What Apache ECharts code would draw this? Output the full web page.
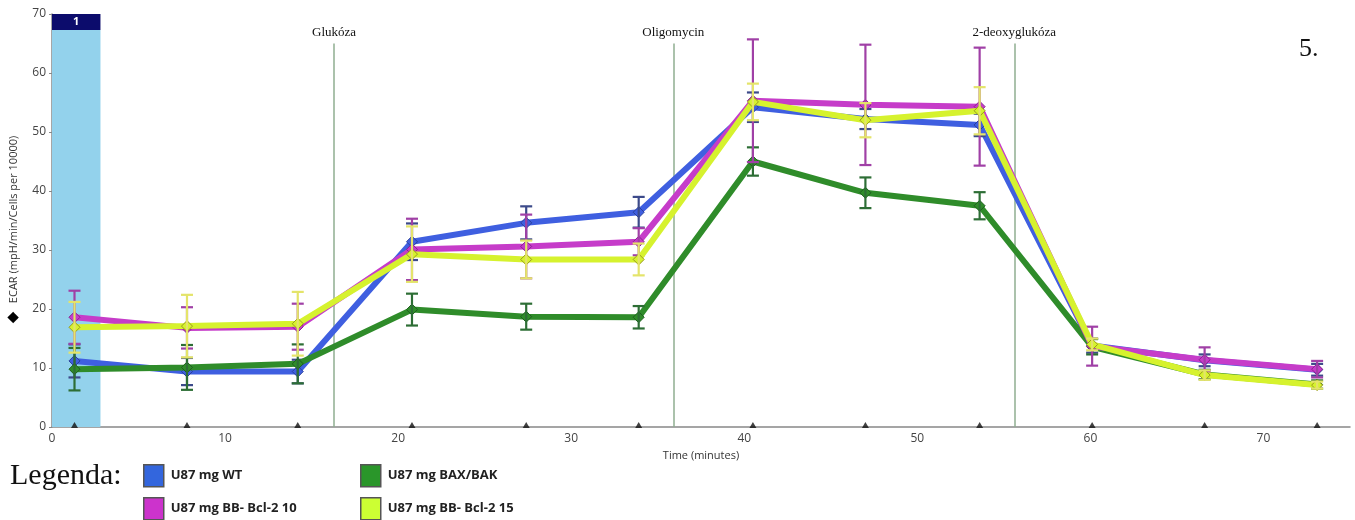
<!DOCTYPE html>
<html>
<head>
<meta charset="utf-8">
<script src="https://cdn.jsdelivr.net/npm/echarts@6/dist/echarts.min.js"></script>
<style>html,body{margin:0;padding:0;background:#fff}#c{width:1355px;height:520px}</style>
</head>
<body>
<div id="c"></div>
<script>
// ---- data ----
const times = [1.3, 7.8, 14.2, 20.8, 27.4, 33.9, 40.5, 47.0, 53.6, 60.1, 66.6, 73.1];
const seriesNames = ['U87 mg WT', 'U87 mg BAX/BAK', 'U87 mg BB- Bcl-2 10', 'U87 mg BB- Bcl-2 15'];
const wt      = [11.2, 9.4, 9.4, 31.4, 34.6, 36.4, 54.2, 52.2, 51.2, 13.8, 11.3, 9.7];
const wtErr   = [2.8, 2.3, 2.0, 3.1, 2.8, 2.6, 2.5, 1.7, 1.9, 1.2, 1.0, 1.0];
const bax     = [9.8, 10.1, 10.7, 19.9, 18.7, 18.6, 45.0, 39.7, 37.5, 13.6, 8.9, 7.2];
const baxErr  = [3.6, 3.8, 3.3, 2.7, 2.2, 1.9, 2.4, 2.6, 2.3, 1.3, 0.8, 0.7];
const bcl10   = [18.6, 16.8, 17.0, 30.1, 30.6, 31.4, 55.3, 54.6, 54.3, 13.7, 11.4, 9.8];
const bcl10Err= [4.5, 3.5, 3.9, 5.2, 5.4, 2.3, 10.4, 10.2, 10.0, 3.3, 2.1, 1.4];
const bcl15   = [16.9, 17.1, 17.5, 29.3, 28.4, 28.4, 55.1, 52.0, 53.6, 14.0, 8.8, 7.1];
const bcl15Err= [4.3, 5.3, 5.4, 4.7, 3.2, 2.7, 3.1, 2.9, 4.0, 1.0, 0.8, 0.6];
const injections = [['Glukóza', 16.3], ['Oligomycin', 35.9], ['2-deoxyglukóza', 55.6]];
const injectionTop = 65;
const bandEnd = 2.8;
const bandLabel = '1';
const yTicks = [0, 10, 20, 30, 40, 50, 60, 70];
const xTicks = [0, 10, 20, 30, 40, 50, 60, 70];

// ---- styles ----
const lineColors = ['#3f5fe0', '#2f8c2a', '#c63cc9', '#d6f22e'];
const markerBorder = ['#2a3f9a', '#1e5e1e', '#8a2090', '#9a9a20'];
const errColors = ['#3c4a8a', '#2d6e35', '#a040a6', '#e4e46a'];
const legendColors = ['#3366dd', '#2a962a', '#cc33cc', '#ccff33'];
const values = [wt, bax, bcl10, bcl15];
const errs = [wtErr, baxErr, bcl10Err, bcl15Err];
const drawOrder = [0, 1, 2, 3];

const chart = echarts.init(document.getElementById('c'), null, {renderer: 'canvas'});

const series = [];
// baseline triangles + band
series.push({
  type: 'scatter', name: 'ticks', silent: true,
  data: times.map(t => [t, 0]),
  symbol: 'triangle', symbolSize: [7, 6], symbolOffset: [0, -2],
  itemStyle: {color: '#111'}, z: 5,
  markArea: {
    silent: true,
    data: [
      [{xAxis: 0, yAxis: 0, itemStyle: {color: '#93d2ec'}}, {xAxis: bandEnd, yAxis: 67.3}],
      [{xAxis: 0, yAxis: 67.3, itemStyle: {color: '#0c0c6c', borderRadius: [3,3,0,0]},
        label: {show: true, position: 'inside', formatter: bandLabel, color: '#fff', fontWeight: 'bold', fontSize: 11, fontFamily: 'Open Sans'}},
       {xAxis: bandEnd, yAxis: 70}]
    ]
  },
  markLine: {
    silent: true, symbol: ['none', 'none'],
    lineStyle: {color: '#8fae90', width: 1.5, type: 'solid'},
    label: {show: true, position: 'end', color: '#111', fontFamily: 'Liberation Serif', fontSize: 13, distance: 4, formatter: p => p.name},
    data: injections.map(([n, x]) => [{name: n, coord: [x, 0]}, {coord: [x, injectionTop]}])
  }
});

drawOrder.forEach(i => {
  series.push({
    type: 'line', name: seriesNames[i],
    data: times.map((t, k) => [t, values[i][k]]),
    lineStyle: {color: lineColors[i], width: 6},
    itemStyle: {color: lineColors[i], borderColor: markerBorder[i], borderWidth: 1},
    symbol: 'diamond', symbolSize: 11, showSymbol: true,
    z: 10 + i * 2, animation: false
  });
  series.push({
    type: 'custom', name: seriesNames[i] + ' err',
    data: times.map((t, k) => [t, values[i][k] - errs[i][k], values[i][k] + errs[i][k]]),
    encode: {x: 0, y: [1, 2]},
    z: 11 + i * 2, silent: true,
    renderItem: (params, api) => {
      const lo = api.coord([api.value(0), api.value(1)]);
      const hi = api.coord([api.value(0), api.value(2)]);
      const w = 6;
      const st = {stroke: errColors[i], lineWidth: 2.2};
      return {type: 'group', children: [
        {type: 'line', shape: {x1: lo[0], y1: lo[1], x2: hi[0], y2: hi[1]}, style: st},
        {type: 'line', shape: {x1: lo[0]-w, y1: lo[1], x2: lo[0]+w, y2: lo[1]}, style: st},
        {type: 'line', shape: {x1: hi[0]-w, y1: hi[1], x2: hi[0]+w, y2: hi[1]}, style: st}
      ]};
    }
  });
});

const legendPos = [[138, 459], [355, 459], [138, 492], [355, 492]];
const legendIdx = [0, 1, 2, 3];
const legends = legendIdx.map((i, k) => ({
  left: legendPos[k][0], top: legendPos[k][1],
  itemWidth: 20, itemHeight: 22, itemGap: 0,
  icon: 'rect', selectedMode: false,
  data: [{name: seriesNames[i], icon: 'rect', itemStyle: {color: legendColors[i], borderColor: '#555', borderWidth: 1.5}}],
  textStyle: {fontFamily: 'Open Sans', fontWeight: 700, fontSize: 13, color: '#222', padding: [0,0,0,2]}
}));

chart.setOption({
  animation: false,
  grid: {left: 52, right: 5, top: 14, bottom: 93, outerBoundsMode: 'none', containLabel: false},
  xAxis: {
    type: 'value', min: 0, max: 75, interval: 10,
    name: 'Time (minutes)', nameLocation: 'middle', nameGap: 21,
    nameTextStyle: {fontFamily: 'Open Sans', fontSize: 11, color: '#333'},
    axisLine: {lineStyle: {color: '#888', width: 1.5}},
    axisTick: {show: false},
    splitLine: {show: false},
    axisLabel: {fontFamily: 'Open Sans', fontSize: 12, color: '#444', margin: 6,
      formatter: v => xTicks.includes(v) ? String(v) : ''}
  },
  yAxis: {
    type: 'value', min: 0, max: 70, interval: 10,
    name: '{d|◆}   ECAR (mpH/min/Cells per 10000)', nameLocation: 'middle', nameGap: 31,
    nameTextStyle: {fontFamily: 'Open Sans', fontSize: 11, color: '#333', padding: [0, 18, 0, 0],
      rich: {d: {fontSize: 15, color: '#000', fontFamily: 'DejaVu Sans'}}},
    axisLine: {show: true, lineStyle: {color: '#888', width: 1.5}},
    axisTick: {show: true, length: 3, lineStyle: {color: '#888'}},
    splitLine: {show: false},
    axisLabel: {fontFamily: 'Open Sans', fontSize: 12, color: '#444', margin: 6,
      formatter: v => yTicks.includes(v) ? String(v) : ''}
  },
  legend: legends,
  graphic: [
    {type: 'text', left: 10, top: 461, style: {text: 'Legenda:', font: '30px "Liberation Serif"', fill: '#111'}},
    {type: 'text', left: 1299, top: 36, style: {text: '5.', font: '26px "Liberation Serif"', fill: '#111'}}
  ],
  series: series
});
</script>
</body>
</html>
